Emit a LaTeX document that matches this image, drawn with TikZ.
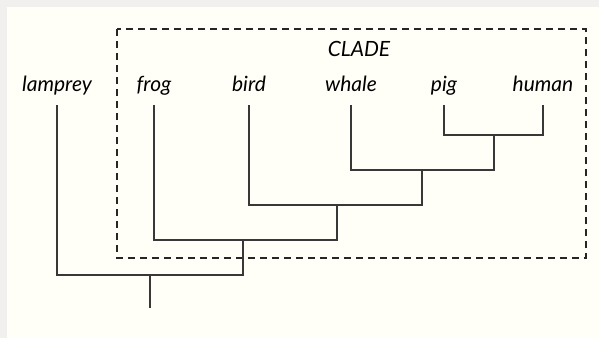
\documentclass[tikz,border=0pt]{standalone}
\usepackage{fontspec}
\setmainfont{Lato}
\usepackage{tikz}

\definecolor{paper}{HTML}{FFFEF7}
\definecolor{frame}{HTML}{F2F0EE}
\definecolor{branch}{HTML}{383838}

\begin{document}
\begin{tikzpicture}[x=0.5pt,y=-0.5pt]
    % background
    \fill[frame] (0,0) rectangle (599,338);
    \fill[paper] (7,7) rectangle (599,338);
    \useasboundingbox (0,0) rectangle (599,338);

    % clade box
    \draw[black!85, line width=0.6pt, dash pattern=on 3.5pt off 2.5pt] (117,29) rectangle (586,258);
    \node[font=\itshape\fontsize{10.5}{12}\selectfont, inner sep=0pt] (clade) at (359,49) {CLADE};

    \begin{scope}[every node/.style={font=\itshape\fontsize{10.5}{12}\selectfont,
                  anchor=south, text depth=2pt, inner xsep=0pt, inner ysep=4.5pt}]
        \node (lamprey) at (57,105) {lamprey};
        \node (frog) at (154,105) {frog};
        \node (bird) at (249,105) {bird};
        \node (whale) at (351,105) {whale};
        \node (pig) at (444,105) {pig};
        \node (human) at (543,105) {human};
    \end{scope}

    % branch points
    \coordinate (ph) at (494,135);
    \coordinate (wph) at (422,170);
    \coordinate (bw) at (337,205);
    \coordinate (fb) at (243,240);
    \coordinate (lf) at (150,275);
    \coordinate (root) at (150,308);

    \begin{scope}[every path/.style={draw=branch, line width=0.65pt}]
        \path (pig.south) |- (ph) -| (human.south);
        \path (whale.south) |- (wph) -| (ph);
        \path (bird.south) |- (bw) -| (wph);
        \path (frog.south) |- (fb) -| (bw);
        \path (lamprey.south) |- (lf) -| (fb);
        \path (lf) -- (root);
    \end{scope}
\end{tikzpicture}
\end{document}
